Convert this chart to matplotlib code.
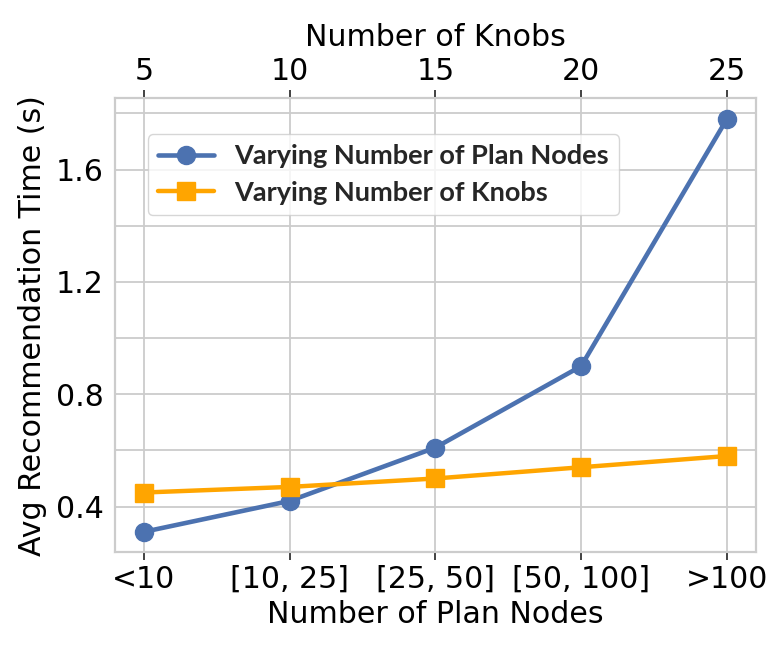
import matplotlib
matplotlib.use("Agg")
import matplotlib.pyplot as plt
import seaborn as sns
import numpy as np
from matplotlib.ticker import MultipleLocator

sns.set_style("whitegrid")
plt.rcParams['font.family'] = ['DejaVu Sans']
plt.rcParams['text.color'] = 'black'
plt.rcParams['axes.labelcolor'] = 'black'
plt.rcParams['xtick.color'] = 'black'
plt.rcParams['ytick.color'] = 'black'

plan_nodes = ["<10", "[10, 25]", "[25, 50]", "[50, 100]", ">100"]
knobs = ["5", "10", "15", "20", "25"]
time_plan_nodes = [0.31, 0.42, 0.61, 0.90, 1.78]
time_knobs = [0.45, 0.47, 0.50, 0.54, 0.58]

FS = 21.6

fig, ax = plt.subplots(figsize=(7.81, 6.51), dpi=100)
fig.subplots_adjust(left=0.147, right=0.968, bottom=0.152, top=0.849)

x = np.arange(len(plan_nodes))
ax.plot(x, time_plan_nodes, color="#4C72B0", marker="o", markersize=13, linewidth=3.3,
        label="Varying Number of Plan Nodes", zorder=3)
ax.plot(x, time_knobs, color="#FFA500", marker="s", markersize=13, linewidth=3.2,
        label="Varying Number of Knobs", zorder=4)

ax.set_xlim(-0.2, 4.2)
ax.set_ylim(0.238, 1.854)
ax.set_xticks(x)
ax.set_xticklabels(plan_nodes, fontsize=FS)
ax.yaxis.set_minor_locator(MultipleLocator(0.2))
ax.set_yticks([0.4, 0.8, 1.2, 1.6])
ax.set_yticklabels(["0.4", "0.8", "1.2", "1.6"], fontsize=FS)
ax.grid(True, which="both", color="#cccccc", linewidth=1.3)
ax.tick_params(axis="y", which="both", length=0, pad=8)
ax.tick_params(axis="x", which="major", length=6, width=1.3, color="#333333", direction="out", bottom=True, pad=3)
ax.set_xlabel("Number of Plan Nodes", fontsize=FS, labelpad=4.5)
ax.set_ylabel("Avg Recommendation Time (s)", fontsize=FS, labelpad=6)
for s in ax.spines.values():
    s.set_color("#cccccc")
    s.set_linewidth(1.5)

ax2 = ax.twiny()
ax2.set_xlim(ax.get_xlim())
ax2.set_xticks(x)
ax2.set_xticklabels(knobs, fontsize=FS)
ax2.grid(False)
ax2.tick_params(axis="x", length=6, width=1.3, color="#333333", direction="out", top=True, pad=3)
ax2.set_xlabel("Number of Knobs", fontsize=FS, labelpad=8)
for s in ax2.spines.values():
    s.set_color("#cccccc")
    s.set_linewidth(1.5)

leg = ax.legend(loc="upper left", bbox_to_anchor=(0.0515, 0.921), borderaxespad=0,
                prop={"family": "Lato", "weight": "bold", "size": 19.5},
                frameon=True, fancybox=True, framealpha=0.8, edgecolor="#cccccc",
                handlelength=2.07, handletextpad=0.74, borderpad=0.38, labelspacing=0.46)
for t in leg.get_texts():
    t.set_color("#262626")

fig.savefig("out.png", dpi=100)
